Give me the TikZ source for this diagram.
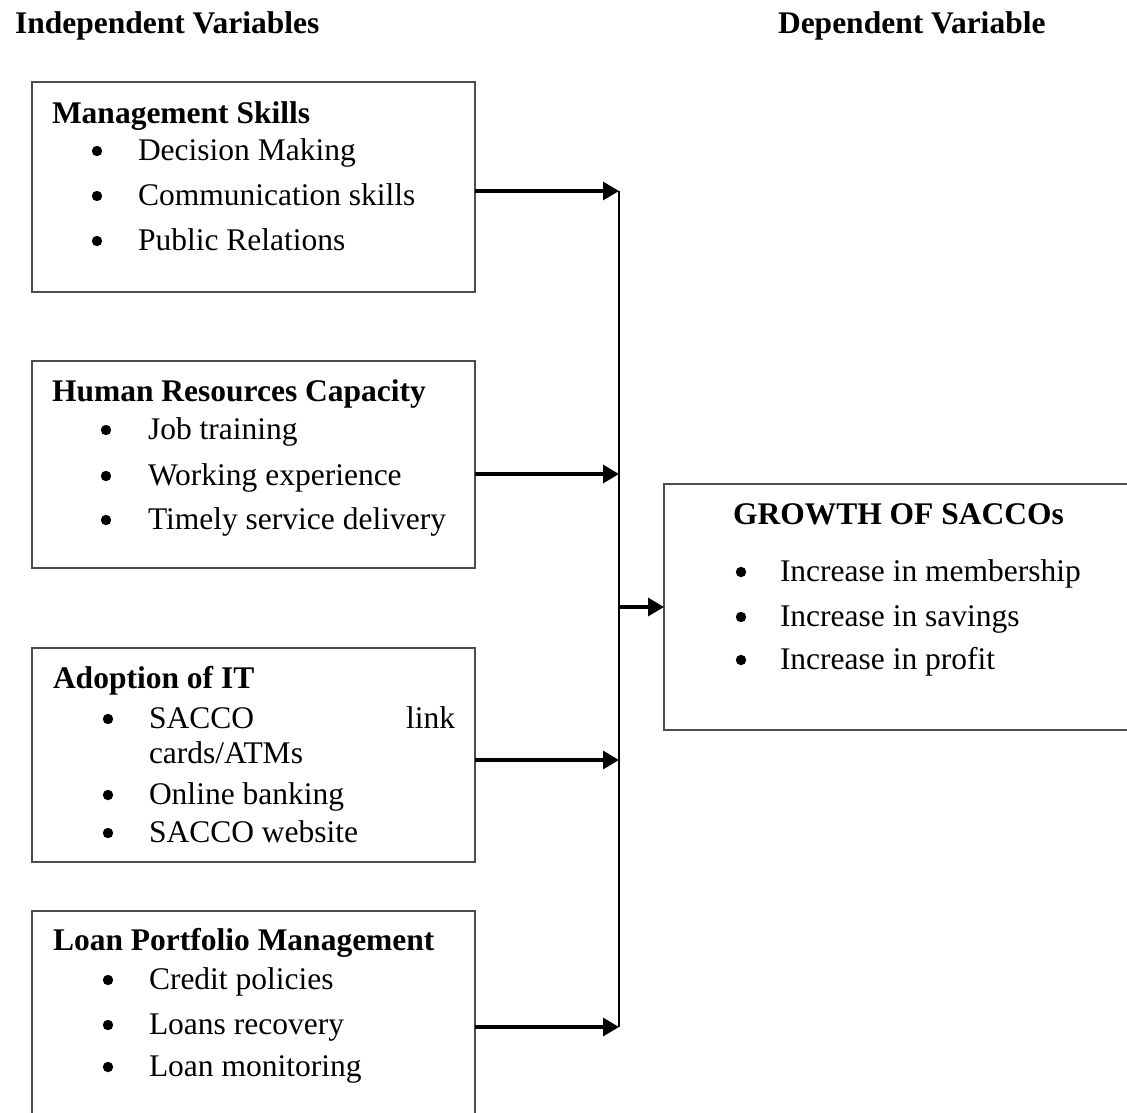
\documentclass[tikz,border=0pt]{standalone}
\usepackage{fontspec}
\setmainfont{Liberation Serif}
\usetikzlibrary{arrows.meta}
\begin{document}
\begin{tikzpicture}[x=1pt,y=-1pt,
  box/.style={draw=black!70, line width=1.5pt, anchor=north west, inner sep=0pt, outer sep=0pt},
  txt/.style={anchor=base west, inner sep=0pt, outer sep=0pt, font=\fontsize{31.5}{38}\selectfont},
  hd/.style={anchor=base west, inner sep=0pt, outer sep=0pt, font=\fontsize{31.5}{38}\selectfont\bfseries},
  arr/.style={line width=3.2pt, -{Triangle[length=16pt,width=18pt]}},
  conn/.style={line width=2.8pt},
  dot/.style={radius=5.2}]
\useasboundingbox (0,0) rectangle (1127,1112);
\fill[white] (0,0) rectangle (1127,1112);

% headers
\node[hd] (hind) at (15,33) {Independent Variables};
\node[hd] (hdep) at (778,33) {Dependent Variable};

% boxes
\node[box, minimum width=443pt, minimum height=210pt] (b1) at (32,82) {};
\node[box, minimum width=443pt, minimum height=207pt] (b2) at (32,361) {};
\node[box, minimum width=443pt, minimum height=214pt] (b3) at (32,648) {};
\node[box, minimum width=443pt, minimum height=220pt] (b4) at (32,911) {};
\node[box, minimum width=480pt, minimum height=246pt] (g) at (664,484) {};

% box 1
\node[hd] (t1) at (52,123) {Management Skills};
\fill[dot] (97,151) circle;
\node[txt] (i11) at (138,160) {Decision Making};
\fill[dot] (97,196) circle;
\node[txt] (i12) at (138,205) {Communication skills};
\fill[dot] (97,241) circle;
\node[txt] (i13) at (138,250) {Public Relations};

% box 2
\node[hd] (t2) at (52,401) {Human Resources Capacity};
\fill[dot] (106,430) circle;
\node[txt] (i21) at (148,439) {Job training};
\fill[dot] (106,476) circle;
\node[txt] (i22) at (148,485) {Working experience};
\fill[dot] (106,520) circle;
\node[txt] (i23) at (148,529) {Timely service delivery};

% box 3
\node[hd] (t3) at (53,688) {Adoption of IT};
\fill[dot] (108,719) circle;
\node[txt] (i31) at (149,728) {SACCO};
\node[txt, anchor=base east] (i31b) at (455,728) {link};
\node[txt] (i31c) at (149,763) {cards/ATMs};
\fill[dot] (108,795) circle;
\node[txt] (i32) at (149,804) {Online banking};
\fill[dot] (108,833) circle;
\node[txt] (i33) at (149,842) {SACCO website};

% box 4
\node[hd] (t4) at (53,950) {Loan Portfolio Management};
\fill[dot] (108,980) circle;
\node[txt] (i41) at (149,989) {Credit policies};
\fill[dot] (108,1025) circle;
\node[txt] (i42) at (149,1034) {Loans recovery};
\fill[dot] (108,1067) circle;
\node[txt] (i43) at (149,1076) {Loan monitoring};

% dependent box
\node[hd] (tg) at (733,524) {GROWTH OF SACCOs};
\fill[dot] (741,572) circle;
\node[txt] (g1) at (780,581) {Increase in membership};
\fill[dot] (741,617) circle;
\node[txt] (g2) at (780,626) {Increase in savings};
\fill[dot] (741,660) circle;
\node[txt] (g3) at (780,669) {Increase in profit};

% junctions
\coordinate (j1) at (619,191);
\coordinate (j2) at (619,474);
\coordinate (jm) at (619,607);
\coordinate (j3) at (619,760);
\coordinate (j4) at (619,1027);

\draw[conn] (j1) -- (j4);
\draw[arr] (b1.east |- j1) -- (j1);
\draw[arr] (b2.east |- j2) -- (j2);
\draw[arr] (b3.east |- j3) -- (j3);
\draw[arr] (b4.east |- j4) -- (j4);
\draw[arr] (jm) -- (g.west |- jm);
\end{tikzpicture}
\end{document}
